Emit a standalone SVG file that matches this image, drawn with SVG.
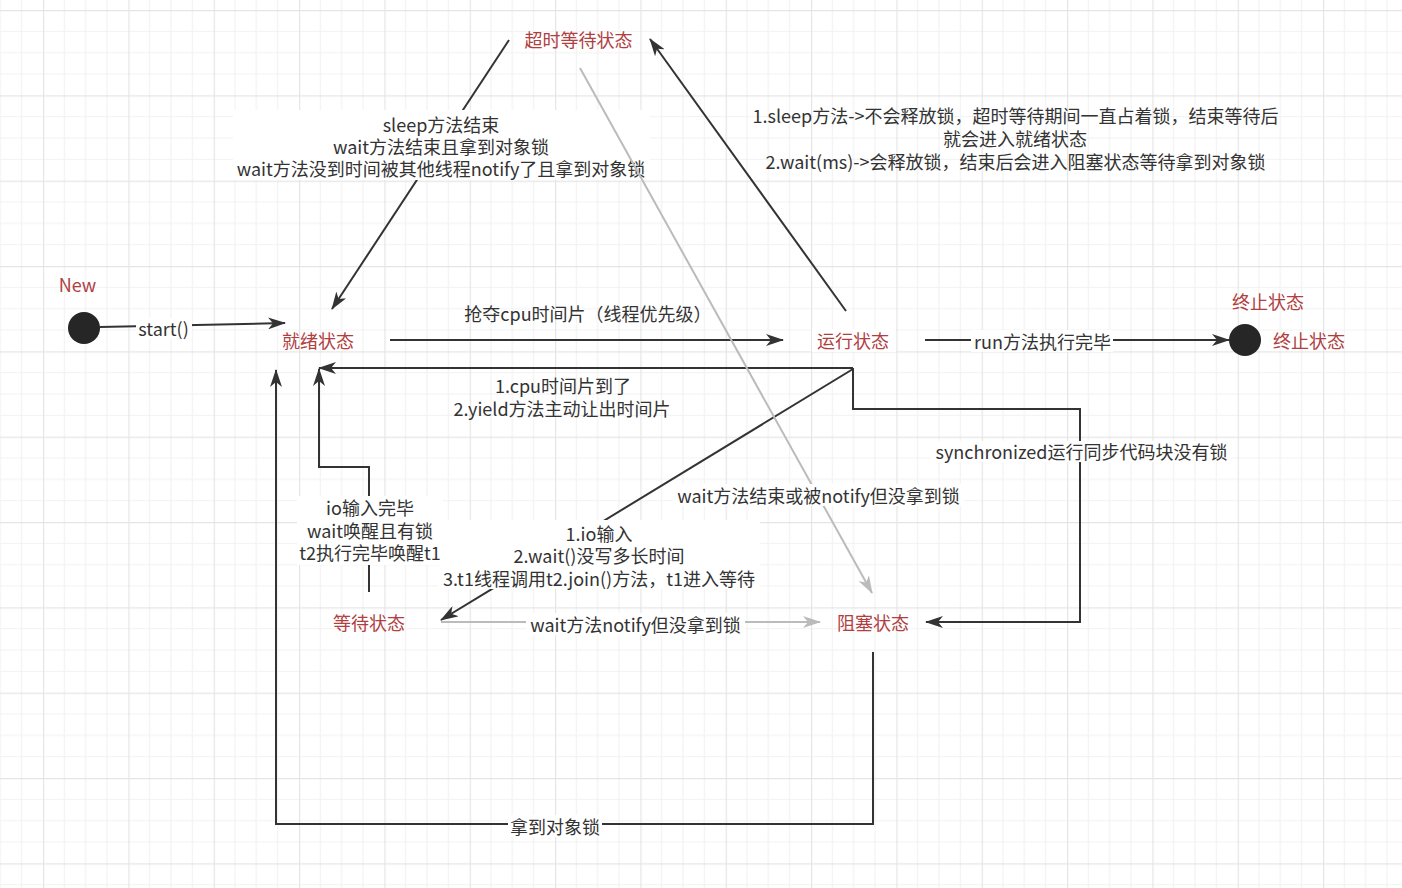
<svg xmlns="http://www.w3.org/2000/svg" width="1402" height="888" viewBox="0 0 1402 888">
<defs>
<pattern id="grid" patternUnits="userSpaceOnUse" x="43" y="10" width="85.333" height="85.333">
<path d="M21.333,0V85.333M42.667,0V85.333M64,0V85.333M0,21.333H85.333M0,42.667H85.333M0,64H85.333" stroke="#f2f2f2" stroke-width="1.2" fill="none"/>
<path d="M0.5,0V85.333M0,0.5H85.333" stroke="#e5e5e5" stroke-width="1.4" fill="none"/>
</pattern>
<marker id="ah" markerUnits="userSpaceOnUse" markerWidth="18" markerHeight="12" refX="17" refY="6" orient="auto">
<path d="M0,0 L18,6 L0,12 L5,6 z" fill="#333"/>
</marker>
<marker id="ahg" markerUnits="userSpaceOnUse" markerWidth="18" markerHeight="12" refX="17" refY="6" orient="auto">
<path d="M0,0 L18,6 L0,12 L5,6 z" fill="#bbb"/>
</marker>
<style>
text{font-family:"Noto Sans CJK SC","Microsoft YaHei","Noto Sans",sans-serif;font-size:18px;dominant-baseline:central;text-anchor:middle}
.st{fill:#b0403f}
.lb{fill:#333}
.e{fill:none;stroke:#333;stroke-width:2;marker-end:url(#ah)}
.g{fill:none;stroke:#bbb;stroke-width:2;marker-end:url(#ahg)}
.bg{fill:#fff}
</style>
</defs>
<rect width="1402" height="888" fill="#fff"/>
<rect width="1402" height="888" fill="url(#grid)"/>

<g id="connectors">
<g id="e-start">
<path class="e" d="M100,327 L285,323"/>
<rect class="bg" x="136" y="318" width="56" height="21"/>
<text class="lb" x="163.5" y="328">start()</text>
</g>
<g id="e-ready-run">
<path class="e" d="M390,340 L783,340"/>
<text class="lb" x="588" y="313">抢夺cpu时间片（线程优先级）</text>
</g>
<g id="e-run-end">
<path class="e" d="M925,340 L1229,340"/>
<rect class="bg" x="971" y="330" width="142" height="22"/>
<text class="lb" x="1042.5" y="341">run方法执行完毕</text>
</g>
<g id="e-run-timed">
<path class="e" d="M846,311 L650,39"/>
</g>
<g id="e-timed-ready">
<path class="e" d="M509,40 L332,309"/>
<rect class="bg" x="233" y="110" width="417" height="70"/>
<text class="lb" x="441" y="124">sleep方法结束</text>
<text class="lb" x="441" y="146">wait方法结束且拿到对象锁</text>
<text class="lb" x="441" y="168">wait方法没到时间被其他线程notify了且拿到对象锁</text>
</g>
<g id="e-run-ready">
<path class="e" d="M853,368 L319,368"/>
<text class="lb" x="563" y="385">1.cpu时间片到了</text>
<text class="lb" x="562" y="408">2.yield方法主动让出时间片</text>
</g>
<g id="e-run-blocked">
<path class="e" d="M853,368 L853,409 L1080,409 L1080,622 L926,622"/>
<rect class="bg" x="931" y="441" width="300" height="21"/>
<text class="lb" x="1081.5" y="451">synchronized运行同步代码块没有锁</text>
</g>
<g id="e-run-waiting">
<path class="e" d="M853,369 L441,620"/>
<rect class="bg" x="438" y="520" width="322" height="69"/>
<text class="lb" x="599" y="533">1.io输入</text>
<text class="lb" x="599" y="555">2.wait()没写多长时间</text>
<text class="lb" x="599" y="578">3.t1线程调用t2.join()方法，t1进入等待</text>
</g>
<g id="e-timed-blocked">
<path class="g" d="M580,68 L872,593"/>
<rect class="bg" x="673" y="484" width="291" height="22"/>
<text class="lb" x="818.5" y="495">wait方法结束或被notify但没拿到锁</text>
</g>
<g id="e-waiting-blocked">
<path class="g" d="M441,622 L820,622"/>
<rect class="bg" x="526" y="613" width="219" height="22"/>
<text class="lb" x="635.5" y="624">wait方法notify但没拿到锁</text>
</g>
<g id="e-waiting-ready">
<path class="e" d="M369,592 L369,467 L319,467 L319,369"/>
<rect class="bg" x="297" y="496" width="146" height="69"/>
<text class="lb" x="370" y="507">io输入完毕</text>
<text class="lb" x="370" y="530">wait唤醒且有锁</text>
<text class="lb" x="370" y="552">t2执行完毕唤醒t1</text>
</g>
<g id="e-blocked-ready">
<path class="e" d="M873,652 L873,824 L276,824 L276,370"/>
<rect class="bg" x="508" y="815" width="94" height="22"/>
<text class="lb" x="555" y="826">拿到对象锁</text>
</g>
<g id="note-timed">
<text class="lb" x="1015.5" y="115">1.sleep方法-&gt;不会释放锁，超时等待期间一直占着锁，结束等待后</text>
<text class="lb" x="1015" y="138">就会进入就绪状态</text>
<text class="lb" x="1015.5" y="161">2.wait(ms)-&gt;会释放锁，结束后会进入阻塞状态等待拿到对象锁</text>
</g>
</g>

<g id="node-new">
<text class="st" x="77.5" y="284">New</text>
<circle cx="84" cy="328" r="16" fill="#262626"/>
</g>
<g id="node-ready">
<text class="st" x="318" y="340">就绪状态</text>
</g>
<g id="node-running">
<rect class="bg" x="812" y="329" width="84" height="23"/>
<text class="st" x="853" y="340">运行状态</text>
</g>
<g id="node-timed">
<text class="st" x="578.5" y="39">超时等待状态</text>
</g>
<g id="node-waiting">
<text class="st" x="369" y="622">等待状态</text>
</g>
<g id="node-blocked">
<text class="st" x="873" y="622">阻塞状态</text>
</g>
<g id="node-end">
<text class="st" x="1268" y="301">终止状态</text>
<circle cx="1245" cy="340" r="16" fill="#262626"/>
<text class="st" x="1309" y="340">终止状态</text>
</g>
</svg>
